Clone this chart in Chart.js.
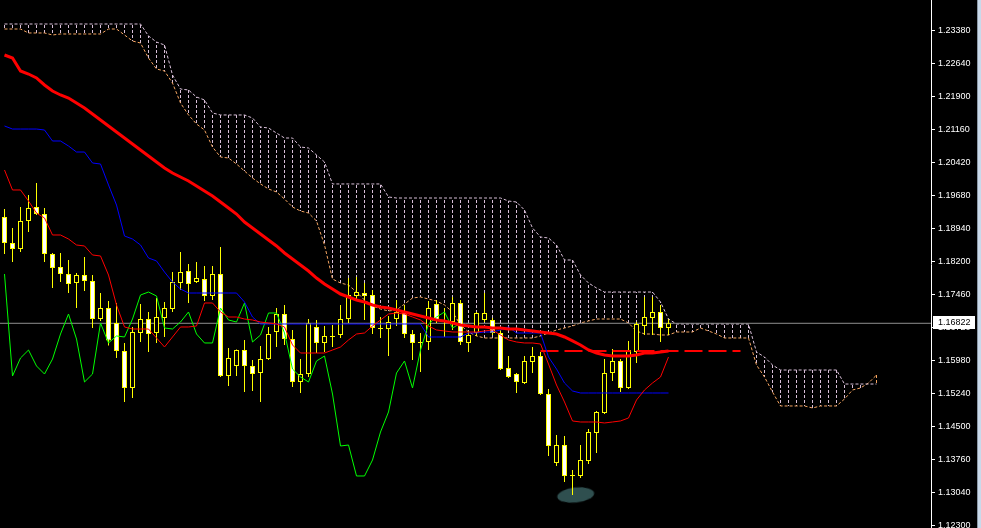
<!DOCTYPE html>
<html>
<head>
<meta charset="utf-8">
<title>EURUSD H4 - Ichimoku</title>
<script src="https://cdn.jsdelivr.net/npm/chart.js@4.4.1/dist/chart.umd.min.js"></script>
<style>
  html, body { margin: 0; padding: 0; background: #000; overflow: hidden; }
  #wrap { display: flex; width: 981px; height: 528px; }
  #edge1 { width: 1px; background: #8a97a5; }
  #edge2 { width: 3px; background: #c9d9ea; }
</style>
</head>
<body>
<div id="wrap">
  <canvas id="chart" width="977" height="528"></canvas>
  <div id="edge1"></div><div id="edge2"></div>
</div>
<script>
// price axis labels as MT4 prints them
const yTicks = [1.24120, 1.23380, 1.22640, 1.21900, 1.21160, 1.20420, 1.19680, 1.18940, 1.18200,
  1.17460, 1.16720, 1.15980, 1.15240, 1.14500, 1.13760, 1.13040, 1.12300];
const bid = 1.16822;

// candles, one per bar (index 0 = leftmost)
const open = [
  1.19204, 1.18622, 1.18487, 1.19115, 1.19428, 1.19271, 1.18375, 1.18084, 1.17926, 1.17725,
  1.17904, 1.17770, 1.16918, 1.17165, 1.16829, 1.16201, 1.15372, 1.16605, 1.16918, 1.16605,
  1.16941, 1.17142, 1.17725, 1.17994, 1.17747, 1.17814, 1.17434, 1.17926, 1.15641, 1.15865,
  1.16223, 1.15865, 1.15708, 1.16021, 1.16627, 1.17030, 1.16470, 1.15506, 1.15685, 1.16739,
  1.16381, 1.16538, 1.16560, 1.16918, 1.17434, 1.17501, 1.17456, 1.16717, 1.16694, 1.16918,
  1.17075, 1.16582, 1.16403, 1.16403, 1.17254, 1.16874, 1.16851, 1.17277, 1.16381, 1.16605,
  1.16896, 1.16896, 1.16605, 1.15820, 1.15685, 1.15484, 1.15954, 1.16089, 1.15237, 1.13691,
  1.14094, 1.13422, 1.13400, 1.13736, 1.14363, 1.14812, 1.15708, 1.15977, 1.15372, 1.16178,
  1.16762, 1.16941, 1.17075, 1.16717];
const high = [
  1.19383, 1.18958, 1.19428, 1.19698, 1.19967, 1.19406, 1.18398, 1.18398, 1.18241, 1.17949,
  1.18308, 1.17904, 1.17501, 1.17322, 1.17277, 1.16381, 1.16739, 1.17254, 1.17075, 1.17389,
  1.17299, 1.17971, 1.18420, 1.18151, 1.18196, 1.18107, 1.18107, 1.18532, 1.16269, 1.16235,
  1.16448, 1.15999, 1.16314, 1.16739, 1.17165, 1.17232, 1.16672, 1.16021, 1.16918, 1.16896,
  1.16762, 1.16784, 1.17232, 1.17837, 1.17859, 1.17725, 1.17568, 1.16963, 1.16986, 1.17344,
  1.17232, 1.16672, 1.16605, 1.17322, 1.17344, 1.17165, 1.17411, 1.17344, 1.16650, 1.17075,
  1.17501, 1.16941, 1.16672, 1.16089, 1.15708, 1.16089, 1.16291, 1.16178, 1.15349, 1.14318,
  1.14296, 1.13534, 1.14094, 1.14452, 1.14857, 1.16021, 1.16246, 1.16021, 1.16426, 1.16851,
  1.17411, 1.17411, 1.17232, 1.16918];
const low = [
  1.18375, 1.18196, 1.18420, 1.18868, 1.19249, 1.18196, 1.17613, 1.17747, 1.17501, 1.17165,
  1.17546, 1.16717, 1.16874, 1.16326, 1.16044, 1.15058, 1.15148, 1.16403, 1.16178, 1.16381,
  1.16515, 1.17075, 1.17568, 1.17277, 1.17725, 1.17322, 1.17344, 1.15618, 1.15417, 1.15641,
  1.15282, 1.15305, 1.15058, 1.15999, 1.16291, 1.16336, 1.15394, 1.15260, 1.15618, 1.16156,
  1.16178, 1.16291, 1.16493, 1.16829, 1.17344, 1.16896, 1.16582, 1.16493, 1.16089, 1.16762,
  1.16493, 1.15999, 1.15730, 1.16223, 1.16829, 1.16515, 1.16672, 1.16336, 1.16178, 1.16538,
  1.16851, 1.16560, 1.15775, 1.15596, 1.15260, 1.15461, 1.15708, 1.15215, 1.13848, 1.13624,
  1.13265, 1.12974, 1.13355, 1.13668, 1.13915, 1.14789, 1.15529, 1.15282, 1.15349, 1.15932,
  1.16560, 1.16560, 1.16403, 1.16560];
const close = [
  1.18622, 1.18487, 1.19115, 1.19406, 1.19271, 1.18375, 1.18062, 1.17926, 1.17702, 1.17904,
  1.17770, 1.16918, 1.17165, 1.16437, 1.16201, 1.15372, 1.16627, 1.16918, 1.16582, 1.16963,
  1.17165, 1.17747, 1.17971, 1.17702, 1.17837, 1.17434, 1.17926, 1.15641, 1.16044, 1.16223,
  1.15865, 1.15685, 1.16021, 1.16582, 1.17030, 1.16470, 1.15506, 1.15685, 1.16829, 1.16381,
  1.16538, 1.16515, 1.16918, 1.17456, 1.17523, 1.17434, 1.16717, 1.16694, 1.16851, 1.17075,
  1.16582, 1.16381, 1.16381, 1.17165, 1.16896, 1.16851, 1.17277, 1.16403, 1.16560, 1.17053,
  1.17053, 1.16605, 1.15797, 1.15618, 1.15506, 1.15977, 1.16089, 1.15237, 1.14072, 1.14094,
  1.13400, 1.13400, 1.13758, 1.14385, 1.14834, 1.15708, 1.15977, 1.15372, 1.16223, 1.16806,
  1.16963, 1.17075, 1.16717, 1.16822];

// Ichimoku lines
const tenkan = [
  1.20258, 1.19810, 1.19810, 1.19563, 1.19294, 1.19182, 1.18801, 1.18801, 1.18711, 1.18577,
  1.18555, 1.18353, 1.18331, 1.17904, 1.17232, 1.16739, 1.16694, 1.16694, 1.16694, 1.16493,
  1.16291, 1.16515, 1.16739, 1.16739, 1.16762, 1.17277, 1.17277, 1.17075, 1.16963, 1.16963,
  1.16918, 1.16896, 1.16851, 1.16829, 1.16806, 1.16739, 1.16336, 1.16156, 1.16156, 1.16156,
  1.16156, 1.16223, 1.16291, 1.16448, 1.16582, 1.16605, 1.16762, 1.16896, 1.17030, 1.17053,
  1.17030, 1.16963, 1.16896, 1.16762, 1.16672, 1.16650, 1.16627, 1.16627, 1.16627, 1.16627,
  1.16650, 1.16672, 1.16560, 1.16448, 1.16403, 1.16381, 1.16381, 1.16358, 1.15909, 1.15439,
  1.15058, 1.14633, 1.14610, 1.14610, 1.14610, 1.14588, 1.14610, 1.14633, 1.14700, 1.15103,
  1.15327, 1.15484, 1.15618, 1.16066];
const kijun = [
  1.21244, 1.21176, 1.21176, 1.21176, 1.21176, 1.21154, 1.20908, 1.20908, 1.20796, 1.20661,
  1.20661, 1.20415, 1.20392, 1.19922, 1.19473, 1.18779, 1.18711, 1.18577, 1.18286, 1.18219,
  1.17971, 1.17747, 1.17590, 1.17501, 1.17501, 1.17501, 1.17501, 1.17501, 1.17501, 1.17501,
  1.17299, 1.16963, 1.16806, 1.16806, 1.16806, 1.16806, 1.16806, 1.16806, 1.16806, 1.16806,
  1.16806, 1.16806, 1.16806, 1.16806, 1.16806, 1.16806, 1.16806, 1.16806, 1.16806, 1.16806,
  1.16806, 1.16806, 1.16806, 1.16515, 1.16515, 1.16515, 1.16515, 1.16515, 1.16605, 1.16605,
  1.16627, 1.16627, 1.16672, 1.16739, 1.16605, 1.16605, 1.16605, 1.16605, 1.16066, 1.15797,
  1.15484, 1.15305, 1.15260, 1.15260, 1.15260, 1.15260, 1.15260, 1.15260, 1.15260, 1.15260,
  1.15260, 1.15260, 1.15260, 1.15260];
const chikou = [
  1.17926, 1.15641, 1.16044, 1.16223, 1.15865, 1.15685, 1.16021, 1.16582, 1.17030, 1.16470,
  1.15506, 1.15685, 1.16829, 1.16381, 1.16538, 1.16515, 1.16918, 1.17456, 1.17523, 1.17434,
  1.16717, 1.16694, 1.16851, 1.17075, 1.16582, 1.16381, 1.16381, 1.17165, 1.16896, 1.16851,
  1.17277, 1.16403, 1.16560, 1.17053, 1.17053, 1.16605, 1.15797, 1.15618, 1.15506, 1.15977,
  1.16089, 1.15237, 1.14072, 1.14094, 1.13400, 1.13400, 1.13758, 1.14385, 1.14834, 1.15708,
  1.15977, 1.15372, 1.16223, 1.16806, 1.16963, 1.17075, 1.16717, 1.16822];
const senkouA = [
  1.23418, 1.23418, 1.23418, 1.23329, 1.23329, 1.23329, 1.23284, 1.23306, 1.23306, 1.23306,
  1.23306, 1.23306, 1.23306, 1.23418, 1.23418, 1.23284, 1.23149, 1.23104, 1.22768, 1.22521,
  1.22477, 1.22208, 1.21760, 1.21491, 1.21289, 1.21154, 1.20773, 1.20549, 1.20527, 1.20392,
  1.20236, 1.20079, 1.19945, 1.19833, 1.19765, 1.19608, 1.19428, 1.19339, 1.19294, 1.19115,
  1.18577, 1.17814, 1.17725, 1.17680, 1.17523, 1.17344, 1.17210, 1.17142, 1.17098, 1.17120,
  1.17254, 1.17389, 1.17411, 1.17366, 1.17322, 1.17232, 1.17075, 1.16784, 1.16627, 1.16538,
  1.16493, 1.16493, 1.16493, 1.16493, 1.16493, 1.16493, 1.16493, 1.16538, 1.16605, 1.16672,
  1.16717, 1.16762, 1.16829, 1.16874, 1.16918, 1.16918, 1.16918, 1.16918, 1.16829, 1.16650,
  1.16582, 1.16582, 1.16560, 1.16560, 1.16627, 1.16627, 1.16627, 1.16717, 1.16650, 1.16582,
  1.16493, 1.16493, 1.16493, 1.16493, 1.15887, 1.15618, 1.15282, 1.14969, 1.14969, 1.14969,
  1.14969, 1.14924, 1.14969, 1.14969, 1.14969, 1.15125, 1.15327, 1.15372, 1.15484, 1.15663];
const senkouB = [
  1.23530, 1.23530, 1.23530, 1.23530, 1.23530, 1.23530, 1.23530, 1.23530, 1.23530, 1.23530,
  1.23530, 1.23530, 1.23530, 1.23530, 1.23530, 1.23530, 1.23530, 1.23530, 1.23262, 1.23126,
  1.23059, 1.22387, 1.22073, 1.22051, 1.21894, 1.21827, 1.21536, 1.21491, 1.21491, 1.21491,
  1.21491, 1.21424, 1.21221, 1.21199, 1.21087, 1.20975, 1.20975, 1.20773, 1.20751, 1.20594,
  1.20437, 1.19945, 1.19945, 1.19945, 1.19945, 1.19945, 1.19945, 1.19945, 1.19653, 1.19630,
  1.19630, 1.19630, 1.19630, 1.19630, 1.19630, 1.19630, 1.19630, 1.19630, 1.19630, 1.19630,
  1.19630, 1.19630, 1.19630, 1.19563, 1.19540, 1.19361, 1.18958, 1.18756, 1.18734, 1.18577,
  1.18241, 1.18241, 1.17904, 1.17725, 1.17613, 1.17523, 1.17523, 1.17523, 1.17523, 1.17523,
  1.17523, 1.17523, 1.17299, 1.16918, 1.16806, 1.16806, 1.16806, 1.16806, 1.16806, 1.16806,
  1.16806, 1.16806, 1.16806, 1.16806, 1.16178, 1.16066, 1.15887, 1.15775, 1.15775, 1.15775,
  1.15775, 1.15775, 1.15775, 1.15775, 1.15775, 1.15461, 1.15461, 1.15461, 1.15461, 1.15461];

// thick red moving average
const ma = [
  1.22835, 1.22768, 1.22477, 1.22409, 1.22320, 1.22163, 1.22029, 1.21939, 1.21872, 1.21760,
  1.21648, 1.21513, 1.21378, 1.21244, 1.21109, 1.20975, 1.20840, 1.20706, 1.20572, 1.20437,
  1.20303, 1.20191, 1.20101, 1.20012, 1.19900, 1.19788, 1.19676, 1.19540, 1.19406, 1.19271,
  1.19092, 1.18958, 1.18823, 1.18689, 1.18555, 1.18398, 1.18263, 1.18129, 1.17994, 1.17837,
  1.17702, 1.17590, 1.17478, 1.17411, 1.17344, 1.17299, 1.17232, 1.17187, 1.17165, 1.17120,
  1.17075, 1.17030, 1.16986, 1.16941, 1.16896, 1.16874, 1.16829, 1.16784, 1.16762, 1.16739,
  1.16739, 1.16717, 1.16717, 1.16694, 1.16694, 1.16672, 1.16650, 1.16627, 1.16605, 1.16582,
  1.16515, 1.16426, 1.16336, 1.16223, 1.16156, 1.16111, 1.16089, 1.16089, 1.16089, 1.16111,
  1.16156, 1.16156, 1.16178, 1.16201];

// dashed red level and the drawn ellipse
const levelBars = [67, 92];
const levelPrice = [1.16201, 1.16201];
const ellipseBar = [71.4];
const ellipsePrice = [1.12974];

const X_MIN = -0.5625, X_MAX = 115.8125;   // 8px per bar
const Y_MIN = 1.12234, Y_MAX = 1.24068;

const canvas = document.getElementById('chart');
const ctx = canvas.getContext('2d');

function series(values) {
  return values.map((v, i) => ({ x: i, y: v }));
}

// vertical dotted stripe used to hatch the cloud
function stripe(color) {
  const c = document.createElement('canvas');
  c.width = 1; c.height = 5;
  const g = c.getContext('2d');
  g.fillStyle = color;
  g.fillRect(0, 0, 1, 3);
  return ctx.createPattern(c, 'repeat');
}
const thistleStripe = stripe('#d8bfd8');
const sandStripe = stripe('#f4a460');

const blob = document.createElement('canvas');
blob.width = 38; blob.height = 16;
const bctx = blob.getContext('2d');
bctx.fillStyle = '#2f4f4f';
bctx.beginPath();
bctx.ellipse(19, 8, 18.5, 7.5, 0, 0, Math.PI * 2);
bctx.fill();

const bidLabel = {
  id: 'bidLabel',
  afterDraw(chart) {
    const c = chart.ctx;
    const y = chart.scales.y;
    const py = Math.round(y.getPixelForValue(bid));
    c.save();
    c.fillStyle = '#ffffff';
    c.fillRect(y.left + 2, py - 7, 42, 13);
    c.fillStyle = '#000000';
    c.font = '9px "Liberation Sans"';
    c.textBaseline = 'middle';
    c.fillText(bid.toFixed(5), y.left + 7, py);
    c.restore();
  }
};

new Chart(ctx, {
  type: 'bar',
  data: {
    datasets: [
      { type: 'line', label: 'MA', data: series(ma), borderColor: '#ff0000', borderWidth: 3, order: 1 },
      { type: 'line', label: 'Tenkan-sen', data: series(tenkan), borderColor: '#ff0000', borderWidth: 1, order: 1 },
      { type: 'line', label: 'Kijun-sen', data: series(kijun), borderColor: '#0000ff', borderWidth: 1, order: 1 },
      { type: 'line', label: 'Chikou Span', data: series(chikou), borderColor: '#00ff00', borderWidth: 1, order: 1 },
      { type: 'line', label: 'level', data: levelBars.map((b, i) => ({ x: b, y: levelPrice[i] })),
        borderColor: '#ff0000', borderWidth: 2, borderDash: [18, 6], order: 1 },
      { label: 'body', data: open.map((o, i) => ({ x: i, y: [o, close[i]] })),
        backgroundColor: c => close[c.dataIndex] < open[c.dataIndex] ? '#ffffff' : '#000000',
        borderColor: '#ffff00', borderWidth: 1, borderSkipped: false, barThickness: 5, order: 2 },
      { label: 'wick', data: low.map((l, i) => ({ x: i, y: [l, high[i]] })),
        backgroundColor: '#ffff00', borderWidth: 0, barThickness: 1, order: 3 },
      { type: 'line', label: 'ellipse', data: ellipseBar.map((b, i) => ({ x: b, y: ellipsePrice[i] })),
        showLine: false, pointStyle: blob, pointRadius: 10, pointRotation: -6, order: 4 },
      { type: 'line', label: 'bid', data: [{ x: X_MIN, y: bid }, { x: X_MAX, y: bid }],
        borderColor: '#8f8f8f', borderWidth: 1, order: 5 },
      { type: 'line', label: 'Senkou Span B', data: series(senkouB), borderColor: '#d8bfd8',
        borderWidth: 1, borderDash: [3, 2], order: 6 },
      { type: 'line', label: 'Senkou Span A', data: series(senkouA), borderColor: '#f4a460',
        borderWidth: 1, borderDash: [3, 2], order: 6 },
      { label: 'cloud', data: senkouA.map((a, i) => ({ x: i, y: [a, senkouB[i]] })),
        backgroundColor: c => senkouB[c.dataIndex] >= senkouA[c.dataIndex] ? thistleStripe : sandStripe,
        borderWidth: 0, barThickness: 1, order: 7 }
    ]
  },
  options: {
    responsive: false,
    animation: false,
    events: [],
    devicePixelRatio: 1,
    layout: { padding: 0, autoPadding: false },
    datasets: { bar: { grouped: false, inflateAmount: 0 } },
    elements: {
      line: { tension: 0, fill: false },
      point: { radius: 0, hitRadius: 0, hoverRadius: 0 }
    },
    plugins: { legend: { display: false }, tooltip: { enabled: false } },
    scales: {
      x: {
        type: 'linear', display: false, offset: false,
        min: X_MIN, max: X_MAX,
        grid: { display: false }
      },
      y: {
        position: 'right',
        min: Y_MIN, max: Y_MAX,
        beginAtZero: false,
        afterBuildTicks: s => { s.ticks = yTicks.map(v => ({ value: v })); },
        afterFit: s => {
          s.width = 46;
          s.paddingTop = 0;
          s.paddingBottom = 0;
        },
        ticks: {
          color: '#ffffff', padding: 3, autoSkip: false,
          font: { family: 'Liberation Sans', size: 9 },
          callback: v => Number(v).toFixed(5)
        },
        grid: { drawOnChartArea: false, drawTicks: true, tickLength: 4, color: '#ffffff' },
        border: { display: true, color: '#ffffff', width: 1 }
      }
    }
  },
  plugins: [bidLabel]
});
</script>
</body>
</html>
